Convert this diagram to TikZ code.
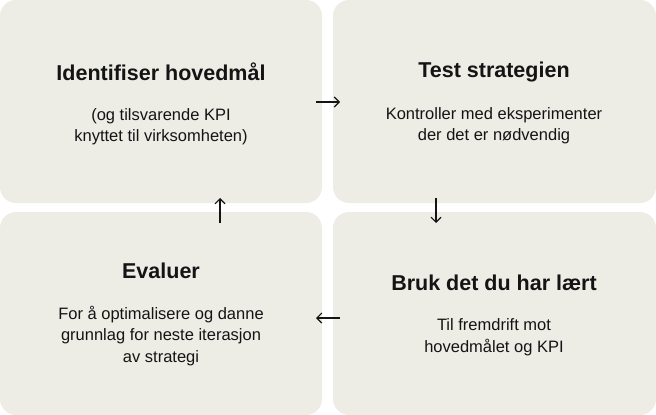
\documentclass[tikz,border=0pt]{standalone}
\usepackage{fontspec}
\setmainfont{Liberation Sans}
\usepackage{tikz}
\usetikzlibrary{positioning, arrows.meta}
\definecolor{boxbeige}{RGB}{237,237,230}
\definecolor{inkdark}{RGB}{20,20,20}

\begin{document}
\begin{tikzpicture}[x=1pt, y=-1pt,
    stepbox/.style={draw=none, fill=boxbeige, rounded corners=16pt,
        minimum width=322pt, minimum height=203pt, inner sep=0pt},
    title/.style={font=\bfseries\fontsize{21.5}{24}\selectfont, text=inkdark},
    body/.style={font=\fontsize{16.5}{21.5}\selectfont, text=inkdark, align=center},
    flow/.style={-{Straight Barb[length=5pt, width=10pt]}, line width=1.1pt, inkdark}]
    \useasboundingbox (0,0) rectangle (656,415);

    % Four boxes
    \node[stepbox] (goal) at (161,101.5) {};
    \node[stepbox, minimum width=323pt] (test) at (494.5,101.5) {};
    \node[stepbox] (eval) at (161,313.5) {};
    \node[stepbox, minimum width=323pt] (apply) at (494.5,313.5) {};

    % Titles
    \node[title] (goalT) at (161,72) {Identifiser hovedmål};
    \node[title] (testT) at (494,72) {Test strategien};
    \node[title] (evalT) at (161,271) {Evaluer};
    \node[title] (applyT) at (494,283) {Bruk det du har lært};

    % Body texts
    \node[body] (goalB) at (161,126.5) {(og tilsvarende KPI\\knyttet til virksomheten)};
    \node[body] (testB) at (494,125.5) {Kontroller med eksperimenter\\der det er nødvendig};
    \node[body] (evalB) at (161,336) {For å optimalisere og danne\\grunnlag for neste iterasjon\\av strategi};
    \node[body] (applyB) at (494,337) {Til fremdrift mot\\hovedmålet og KPI};

    % Arrows between the boxes
    \coordinate (r1) at (316,102);  \coordinate (r2) at (340,102);
    \coordinate (d1) at (436,198);  \coordinate (d2) at (436,223);
    \coordinate (l1) at (340,318);  \coordinate (l2) at (316,318);
    \coordinate (u1) at (220,223);  \coordinate (u2) at (220,198);
    \draw[flow] (r1) -- (r2);
    \draw[flow] (d1) -- (d2);
    \draw[flow] (l1) -- (l2);
    \draw[flow] (u1) -- (u2);
\end{tikzpicture}
\end{document}
